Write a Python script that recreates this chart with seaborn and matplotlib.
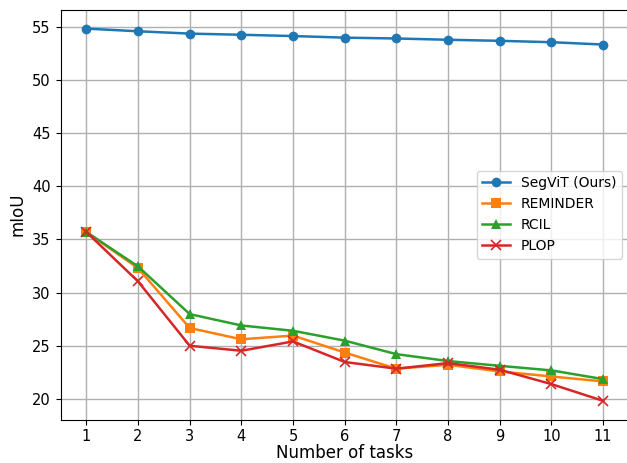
import matplotlib
matplotlib.use("Agg")
import matplotlib.pyplot as plt
import seaborn as sns
import pandas as pd

tasks = [1, 2, 3, 4, 5, 6, 7, 8, 9, 10, 11]
segvit = [54.85, 54.6, 54.38, 54.27, 54.15, 54.0, 53.92, 53.8, 53.7, 53.57, 53.35]
reminder = [35.7, 32.3, 26.66, 25.6, 25.95, 24.35, 22.83, 23.2, 22.57, 22.1, 21.63]
rcil = [35.7, 32.46, 27.97, 26.9, 26.4, 25.47, 24.2, 23.55, 23.1, 22.67, 21.85]
plop = [35.7, 31.05, 24.99, 24.52, 25.4, 23.46, 22.83, 23.36, 22.73, 21.38, 19.8]

names = ["SegViT (Ours)", "REMINDER", "RCIL", "PLOP"]
series = [segvit, reminder, rcil, plop]
markers = ["o", "s", "^", "x"]
colors = ["#1f77b4", "#ff7f0e", "#2ca02c", "#d62728"]

rows = []
for n, s in zip(names, series):
    for t, v in zip(tasks, s):
        rows.append({"task": t, "miou": v, "method": n})
df = pd.DataFrame(rows)

W, H = 627, 463
fig = plt.figure(figsize=(W / 100, H / 100), dpi=100)
l, r, t, b = 60.5, 629, 10, 419.5
ax = fig.add_axes([l / W, 1 - b / H, (r - l) / W, (b - t) / H])
for n, m, c in zip(names, markers, colors):
    d = df[df["method"] == n]
    sns.lineplot(data=d, x="task", y="miou", ax=ax, marker=m, color=c, label=n,
                 markersize=7, linewidth=1.8, markeredgecolor=c,
                 markeredgewidth=1.2 if m == "x" else 0)
ax.set_xticks(tasks)
ax.grid(True, color="#b0b0b0", linewidth=1.0)
ax.set_axisbelow(True)
ax.set_xlabel("Number of tasks", fontsize=12, labelpad=0)
ax.set_ylabel("mIoU", fontsize=12)
ax.tick_params(labelsize=10.5)
ax.legend(loc="center right", fontsize=10)
fig.savefig("out.png", dpi=100)
